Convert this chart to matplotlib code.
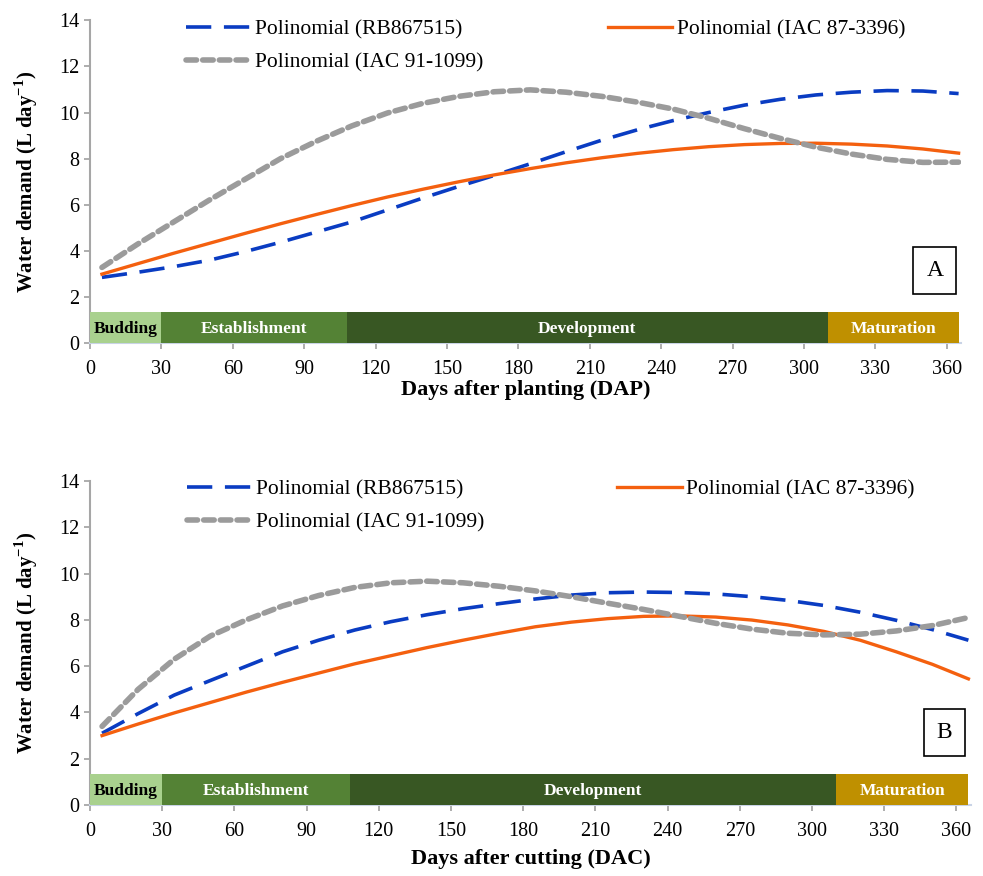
import numpy as np
import matplotlib
matplotlib.use("Agg")
import matplotlib.pyplot as plt

plt.rcParams['font.family'] = ['Liberation Serif', 'DejaVu Serif']
plt.rcParams['mathtext.fontset'] = 'custom'
plt.rcParams['mathtext.rm'] = 'Liberation Serif'
plt.rcParams['mathtext.bf'] = 'Liberation Serif:bold'

# ---------- data ----------
days = [5, 20, 35, 50, 65, 80, 95, 110, 125, 140, 155, 170, 185,
        200, 215, 230, 245, 260, 275, 290, 305, 320, 335, 350, 365]

# panel A : days after planting
rb_a = [2.86, 3.08, 3.32, 3.60, 3.97, 4.38, 4.82, 5.26, 5.78, 6.30, 6.80, 7.28, 7.78,
        8.30, 8.80, 9.25, 9.65, 10.00, 10.32, 10.57, 10.76, 10.88, 10.95, 10.93, 10.82]
iac87_a = [3.00, 3.45, 3.90, 4.33, 4.76, 5.18, 5.58, 5.97, 6.34, 6.68, 7.00, 7.30, 7.57,
           7.82, 8.04, 8.23, 8.39, 8.52, 8.61, 8.66, 8.67, 8.63, 8.55, 8.42, 8.24]
iac91_a = [3.29, 4.30, 5.25, 6.20, 7.10, 8.00, 8.75, 9.42, 9.98, 10.40, 10.70, 10.90, 10.98,
           10.88, 10.70, 10.45, 10.15, 9.75, 9.30, 8.88, 8.50, 8.20, 7.97, 7.84, 7.85]

# panel B : days after cutting
rb_b = [3.10, 3.95, 4.75, 5.38, 6.00, 6.62, 7.12, 7.56, 7.92, 8.22, 8.48, 8.70, 8.90,
        9.07, 9.17, 9.20, 9.18, 9.12, 9.00, 8.84, 8.62, 8.33, 7.98, 7.58, 7.12]
iac87_b = [3.00, 3.50, 3.98, 4.43, 4.88, 5.30, 5.70, 6.10, 6.45, 6.80, 7.12, 7.42, 7.70,
           7.90, 8.05, 8.15, 8.17, 8.12, 7.99, 7.78, 7.50, 7.12, 6.62, 6.08, 5.45]
iac91_b = [3.40, 5.00, 6.30, 7.30, 8.00, 8.60, 9.05, 9.40, 9.60, 9.67, 9.60, 9.45, 9.25,
           9.00, 8.72, 8.45, 8.15, 7.85, 7.60, 7.42, 7.35, 7.38, 7.52, 7.75, 8.10]

# crop phases
phase_names = ['Budding', 'Establishment', 'Development', 'Maturation']
phase_start = [0, 30, 108, 310]
phase_end = [30, 108, 310, 365]
phase_colors = ['#a9d18e', '#548235', '#385723', '#bf9000']
phase_text = ['black', 'white', 'white', 'white']

x_ticks = list(range(0, 361, 30))
y_ticks = list(range(0, 15, 2))

BLUE = '#0a3cc2'
ORANGE = '#f4600f'
GRAY = '#9b9b9b'


def draw_panel(ax, rb, iac87, iac91, xlabel, tag, col_space, xpad):
    l_rb, = ax.plot(days, rb, color=BLUE, lw=2.6, dashes=(7, 3.5),
                    label='Polinomial (RB867515)')
    l_87, = ax.plot(days, iac87, color=ORANGE, lw=2.4,
                    label='Polinomial (IAC 87-3396)')
    l_91, = ax.plot(days, iac91, color=GRAY, lw=4.0, dashes=(1.9, 1.1),
                    dash_capstyle='round', label='Polinomial (IAC 91-1099)')

    # phase bar along the bottom
    for name, s, e, c, tc in zip(phase_names, phase_start, phase_end,
                                 phase_colors, phase_text):
        ax.barh(0.68, e - s, left=s, height=1.36, color=c, edgecolor='none', zorder=3)
        ax.text((s + e) / 2, 0.62, name, ha='center', va='center', color=tc,
                fontsize=12.5, fontweight='bold', zorder=4)

    ax.set_xlim(0, 366)
    ax.set_ylim(0, 14)
    ax.set_xticks(x_ticks)
    ax.set_yticks(y_ticks)
    ax.tick_params(axis='both', labelsize=14.5, colors='#a0a0a0', labelcolor='black',
                   length=4, width=1.2)
    ax.tick_params(axis='x', pad=8)
    ax.spines['top'].set_visible(False)
    ax.spines['right'].set_visible(False)
    ax.spines['left'].set_color('#a6a6a6')
    ax.spines['left'].set_linewidth(1.5)
    ax.spines['bottom'].set_color('#c9d3e6')
    ax.spines['bottom'].set_linewidth(1.5)

    ax.set_xlabel(xlabel, fontsize=16, fontweight='bold', labelpad=xpad)
    ax.set_ylabel(r'Water demand (L day$^{\mathbf{-1}}$)', fontsize=15,
                  fontweight='bold', labelpad=14)

    ax.legend([l_rb, l_91, l_87], [l_rb.get_label(), l_91.get_label(), l_87.get_label()],
              ncol=2, loc='upper left', bbox_to_anchor=(0.1, 1.03), frameon=False,
              fontsize=15.5, handlelength=3.0, handletextpad=0.2,
              columnspacing=col_space, labelspacing=0.6, borderaxespad=0)

    ax.text(0.97, 0.225, tag, transform=ax.transAxes, ha='center', va='center',
            fontsize=17, family='Liberation Serif',
            bbox=dict(boxstyle='square,pad=0.55', fc='white', ec='black', lw=1.2))


fig = plt.figure(figsize=(9.83, 8.76), dpi=100)
ax_a = fig.add_axes([0.0916, 0.608, 0.886, 0.369])
ax_b = fig.add_axes([0.0916, 0.081, 0.896, 0.370])

draw_panel(ax_a, rb_a, iac87_a, iac91_a, 'Days after planting (DAP)', 'A', 5.8, 1)
draw_panel(ax_b, rb_b, iac87_b, iac91_b, 'Days after cutting (DAC)', 'B', 6.2, 6)

fig.savefig('out.png', dpi=100)
plt.close(fig)
